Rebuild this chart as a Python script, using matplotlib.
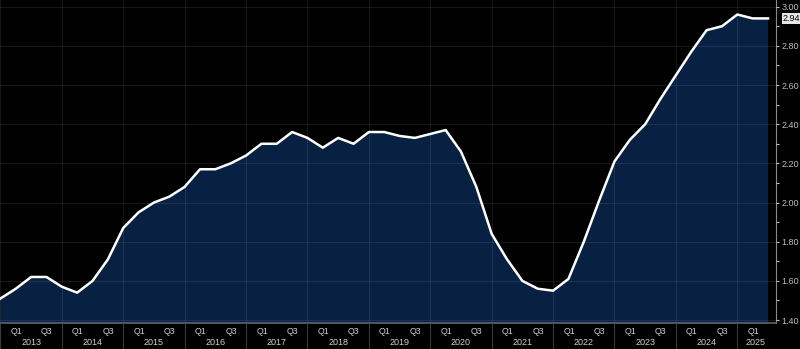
import numpy as np
import matplotlib
matplotlib.use('Agg')
import matplotlib.pyplot as plt
import matplotlib.transforms as mtransforms
from matplotlib.ticker import MultipleLocator, FixedLocator, FormatStrFormatter

# quarter-end observations, 2012Q4 .. 2025Q2
quarters = [f"{y}Q{q}" for y in range(2012, 2026) for q in range(1, 5)][3:-2]
values = [1.51, 1.56, 1.62, 1.62, 1.57, 1.54, 1.60, 1.71, 1.87, 1.95,
          2.00, 2.03, 2.08, 2.17, 2.17, 2.20, 2.24, 2.30, 2.30, 2.36,
          2.33, 2.28, 2.33, 2.30, 2.36, 2.36, 2.34, 2.33, 2.35, 2.37,
          2.26, 2.08, 1.84, 1.71, 1.60, 1.56, 1.55, 1.61, 1.80, 2.01,
          2.21, 2.32, 2.40, 2.53, 2.65, 2.77, 2.88, 2.90, 2.96, 2.94, 2.94]
years = list(range(2013, 2026))
quarter_labels = ["Q1", "Q3"]
last_label = "2.94"

plt.rcParams['font.family'] = ['Liberation Sans', 'DejaVu Sans']

pos = [int(s[:4]) + int(s[-1]) * 0.25 for s in quarters]

W, H = 800, 349
fig = plt.figure(figsize=(W / 100, H / 100), dpi=100, facecolor='black')
ax = fig.add_axes([0, 26 / H, 776 / W, 1 - 26 / H])
ax.set_facecolor('black')

ax.fill_between(pos, values, 1.0, color='#082041', zorder=1, linewidth=0)
ax.plot(pos, values, color='white', lw=1.8, zorder=3, solid_joinstyle='round')

ax.set_xlim(2012.993, 2025.63)
ax.set_ylim(1.385, 3.034)

# y axis on right
ax.yaxis.tick_right()
ax.yaxis.set_major_locator(MultipleLocator(0.2))
ax.yaxis.set_minor_locator(MultipleLocator(0.1))
ax.yaxis.set_major_formatter(FormatStrFormatter('%.2f'))
ax.tick_params(axis='y', which='both', colors='#bdbdbd', labelsize=6.5,
               length=2.5, width=0.8, pad=1.5, direction='out')
ax.tick_params(axis='y', which='minor', length=2)

for s in ['top', 'left']:
    ax.spines[s].set_visible(False)
ax.spines['right'].set_color('#8a8a8a')
ax.spines['right'].set_linewidth(0.8)
ax.spines['bottom'].set_color('#5a6478')
ax.spines['bottom'].set_linewidth(1.2)

# x axis: year separators
ax.set_xticks(years)
ax.tick_params(axis='x', which='major', length=19, width=0.8, color='#3a3a3a',
               labelbottom=False, direction='out')

ax.grid(True, which='major', color='white', alpha=0.09, lw=0.7)
ax.set_axisbelow(False)

trans = mtransforms.blended_transform_factory(ax.transData, fig.transFigure)
for y in years:
    if y < 2025:
        ax.text(y + 0.26, (H - 331.5) / H, quarter_labels[0], transform=trans,
                ha='center', va='center', fontsize=6.3, color='#d0d0d0')
        ax.text(y + 0.755, (H - 331.5) / H, quarter_labels[1], transform=trans,
                ha='center', va='center', fontsize=6.3, color='#d0d0d0')
        ax.text(y + 0.5, (H - 342.5) / H, str(y), transform=trans,
                ha='center', va='center', fontsize=6.5, color='#d0d0d0')
    else:
        ax.text(y + 0.26, (H - 331.5) / H, quarter_labels[0], transform=trans,
                ha='center', va='center', fontsize=6.3, color='#d0d0d0')
        ax.text(y + 0.3, (H - 342.5) / H, str(y), transform=trans,
                ha='center', va='center', fontsize=6.5, color='#d0d0d0')

ax.annotate(last_label, xy=(1, values[-1]), xycoords=ax.get_yaxis_transform(),
            xytext=(5, 0), textcoords='offset points', ha='left', va='center',
            fontsize=6.5, color='black', zorder=5, annotation_clip=False,
            bbox=dict(boxstyle='square,pad=0.12', fc='#e6e6e6', ec='none'))

fig.savefig('out.png', dpi=100, facecolor='black')
